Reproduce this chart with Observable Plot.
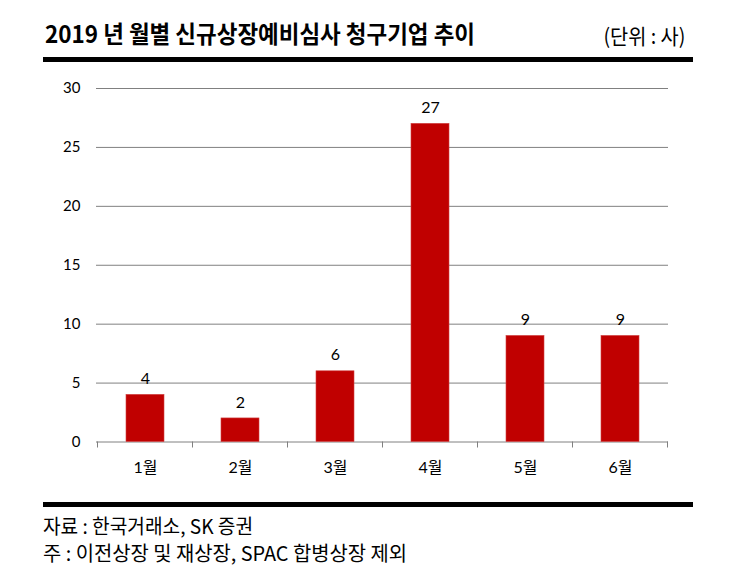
<!DOCTYPE html>
<html>
<head>
<meta charset="utf-8">
<script src="https://cdn.jsdelivr.net/npm/d3@7"></script>
<script src="https://cdn.jsdelivr.net/npm/@observablehq/plot@0.6"></script>
<style>
  html, body { margin: 0; padding: 0; background: #fff; }
  #wrap { position: relative; width: 749px; height: 587px; overflow: hidden; font-family: "Noto Sans CJK KR", "Noto Sans", sans-serif; color: #000; }
  .txt { position: absolute; white-space: nowrap; line-height: 1; }
  .rule { position: absolute; background: #000; }
  #chart { position: absolute; left: 0; top: 70px; }
</style>
</head>
<body>
<div id="wrap">
  <div class="txt" id="title" style="left:45px; top:21px; font-size:24px; font-weight:700;">2019 년 월별 신규상장예비심사 청구기업 추이</div>
  <div class="txt" id="unit" style="right:64px; top:25px; font-size:21px;">(단위 : 사)</div>
  <div class="rule" style="left:43px; top:57px; width:650px; height:5px;"></div>
  <div id="chart"></div>
  <div class="rule" style="left:43px; top:502px; width:650px; height:5px;"></div>
  <div class="txt" id="src" style="left:43px; top:516px; font-size:20px;">자료 : 한국거래소, SK 증권</div>
  <div class="txt" id="note" style="left:43px; top:543px; font-size:20px;">주 : 이전상장 및 재상장, SPAC 합병상장 제외</div>
</div>
<script>
const months = ["1월", "2월", "3월", "4월", "5월", "6월"];
const counts = [4, 2, 6, 27, 9, 9];
const yTicks = [0, 5, 10, 15, 20, 25, 30];

const data = months.map((m, i) => ({month: m, count: counts[i]}));

function boundaryTicks(index, scales, values, dims) {
  const x = scales.x, y = scales.y;
  const step = x.step();
  const gap = (step - x.bandwidth()) / 2;
  const xs = months.map(m => x(m) - gap);
  xs.push(x(months[months.length - 1]) + x.bandwidth() + gap);
  const y0 = y(0);
  const g = d3.create("svg:g").attr("stroke", "#808080").attr("stroke-width", 1);
  for (const px of xs) {
    g.append("line").attr("x1", px).attr("x2", px).attr("y1", y0).attr("y2", y0 + 6);
  }
  return g.node();
}

const chart = Plot.plot({
  width: 749,
  height: 420,
  marginTop: 18,
  marginBottom: 48.5,
  marginLeft: 96,
  marginRight: 81,
  style: {fontFamily: "Lato, 'Noto Sans CJK KR', sans-serif", fontSize: "15px", color: "#000", background: "#fff"},
  x: {domain: months, paddingInner: 0.6, paddingOuter: 0.3, label: null},
  y: {domain: [0, 30], label: null},
  marks: [
    Plot.gridY(yTicks, {stroke: "#808080", strokeOpacity: 1, strokeWidth: 1}),
    Plot.axisY(yTicks, {tickSize: 0, tickPadding: 16, fontSize: 15, label: null}),
    Plot.axisX({tickSize: 0, tickPadding: 20, fontSize: 16, label: null}),
    boundaryTicks,
    Plot.barY(data, {x: "month", y: "count", fill: "#C00000", stroke: "#d04040", strokeWidth: 0.6}),
    Plot.text(data, {x: "month", y: "count", text: d => String(d.count), dy: -16, fontSize: 16, fill: "#000"})
  ]
});
document.getElementById("chart").appendChild(chart);

function fit(id, target, origin) {
  const el = document.getElementById(id);
  el.style.transform = "none";
  const w = el.getBoundingClientRect().width;
  el.style.transformOrigin = origin;
  el.style.transform = `scaleX(${target / w})`;
}
function fitAll() {
  fit("title", 430, "left center");
  fit("unit", 82, "right center");
  fit("src", 210, "left center");
  fit("note", 364, "left center");
}
fitAll();
if (document.fonts && document.fonts.ready) document.fonts.ready.then(fitAll);
</script>
</body>
</html>
